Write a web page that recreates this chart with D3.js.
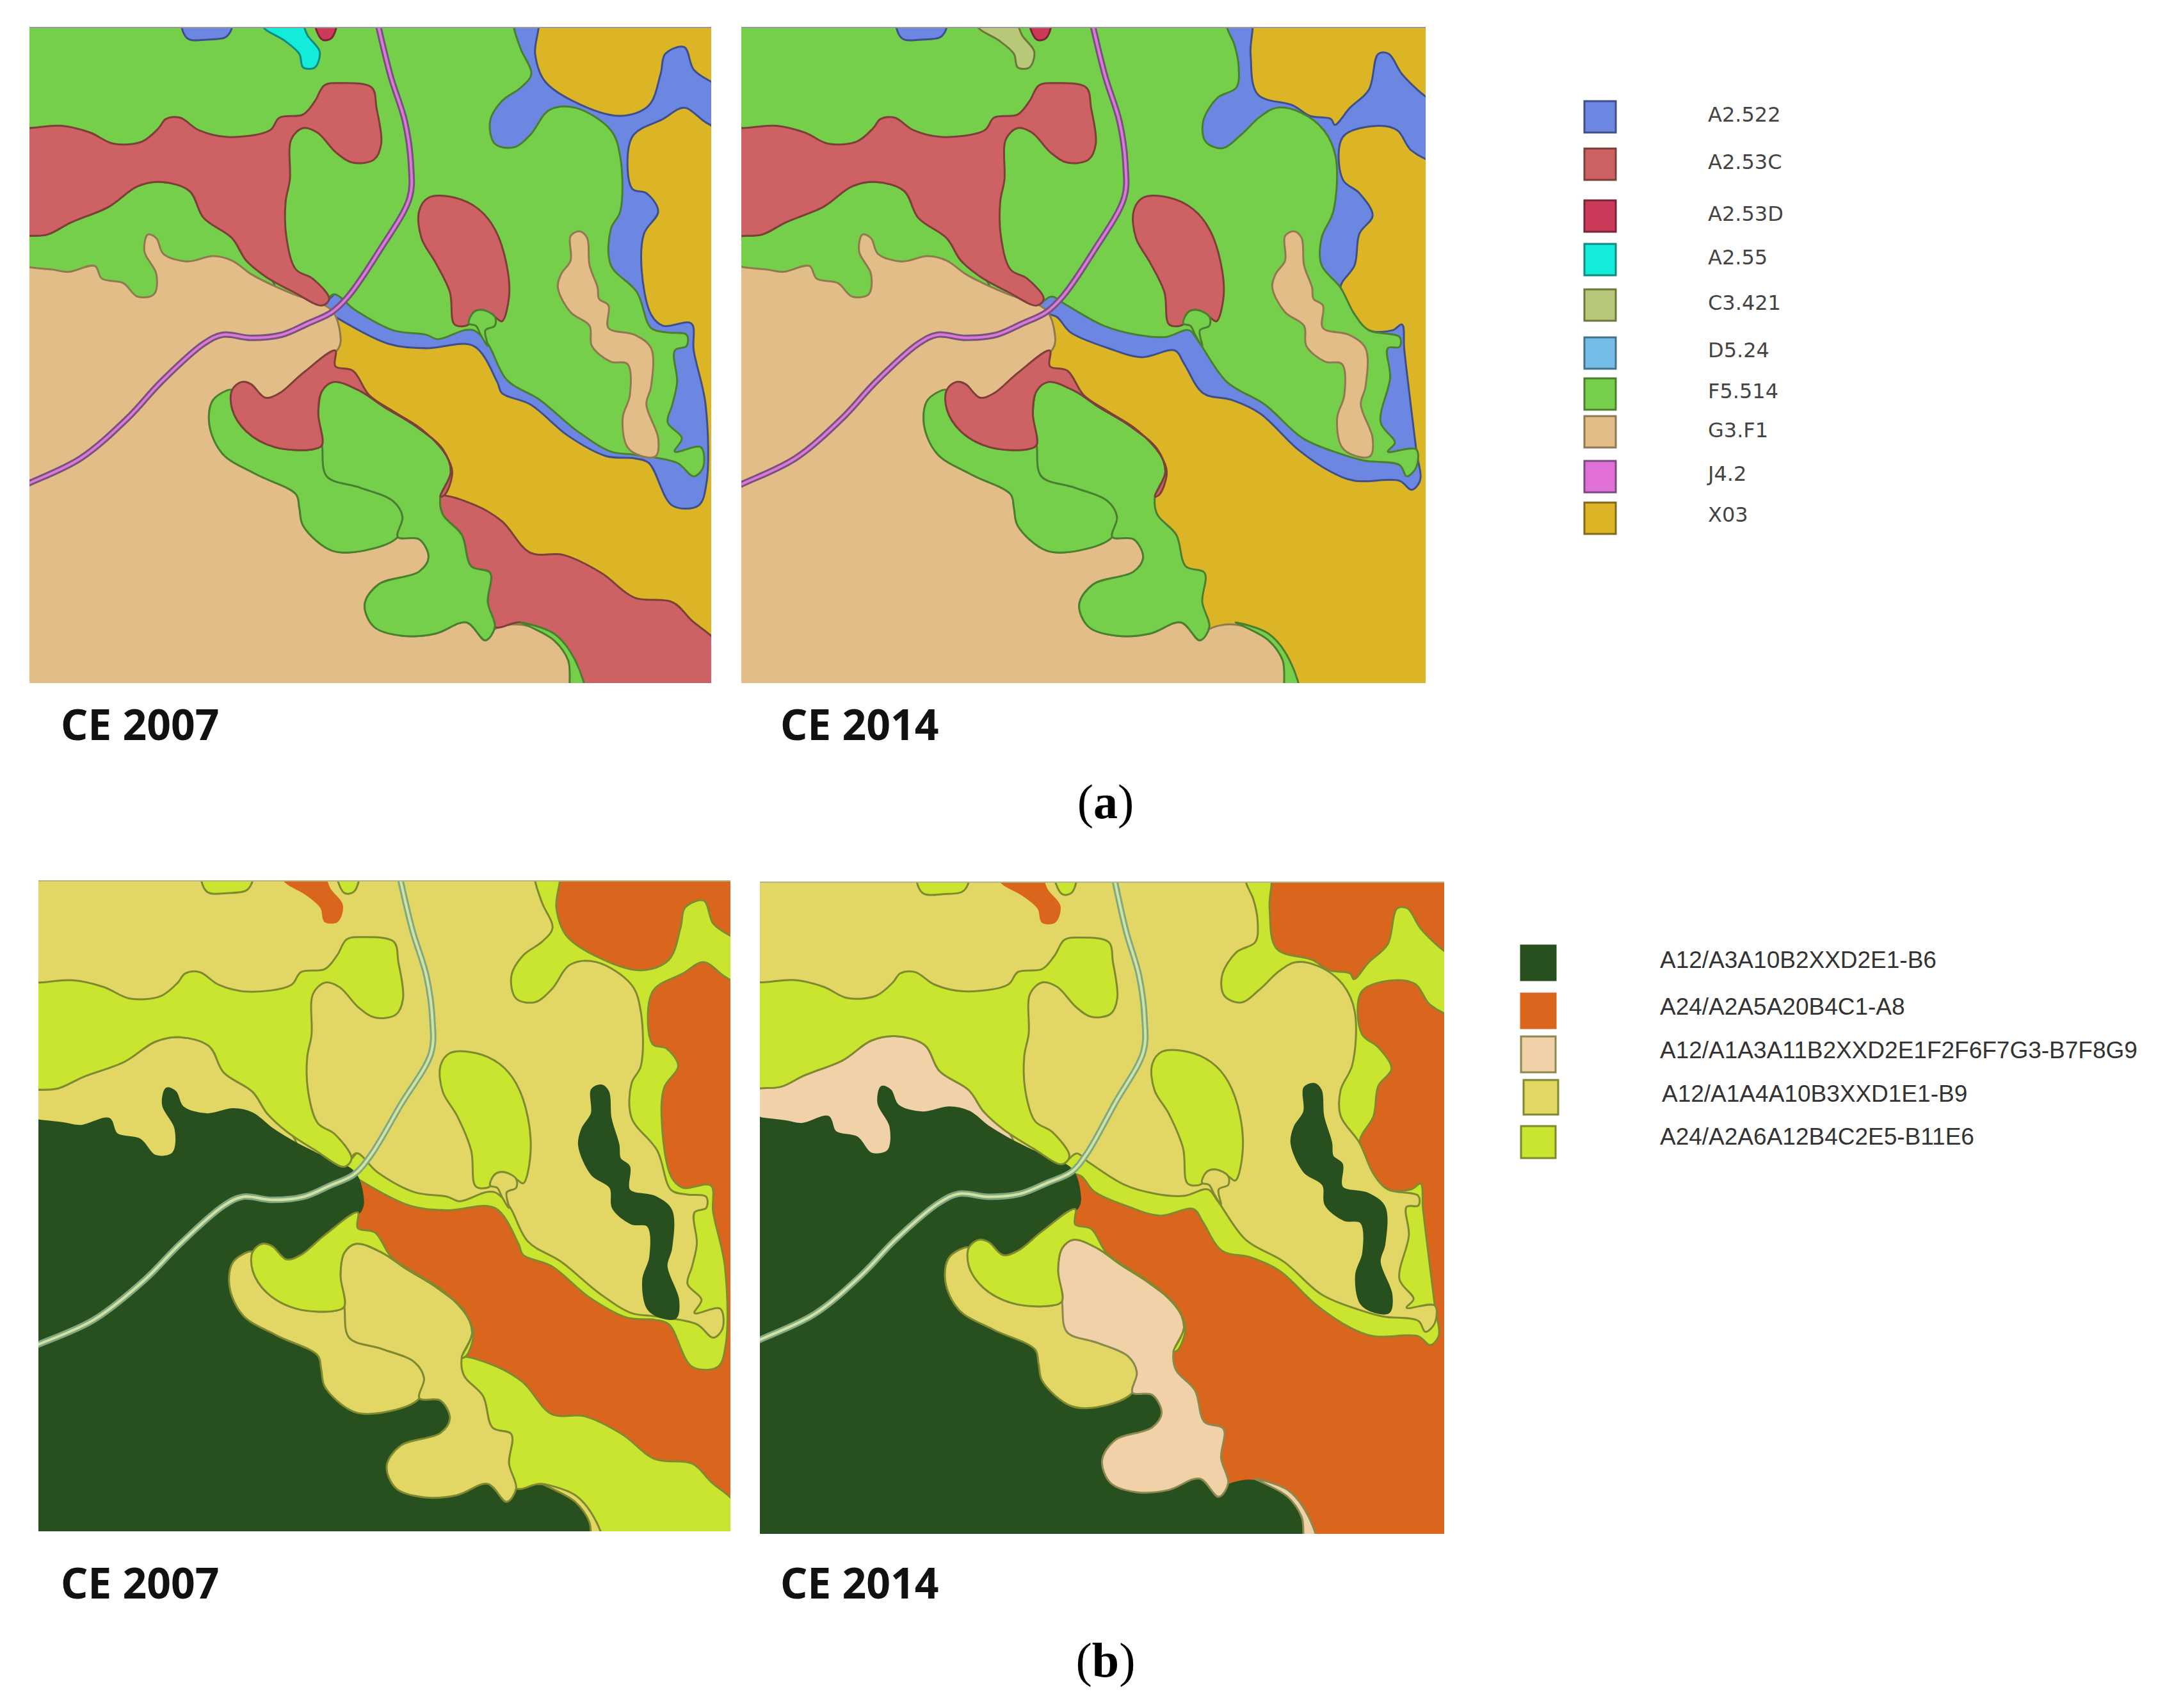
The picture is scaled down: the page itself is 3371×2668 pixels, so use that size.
<!DOCTYPE html>
<html>
<head>
<meta charset="utf-8">
<script src="https://cdn.jsdelivr.net/npm/d3@7"></script>
<style>
  html, body { margin: 0; padding: 0; background: #fff; }
</style>
</head>
<body>
<svg id="viz"></svg>
<script>
// legend (a)
const codesA = ["A2.522", "A2.53C", "A2.53D", "A2.55", "C3.421", "D5.24", "F5.514", "G3.F1", "J4.2", "X03"];
const fillsA = ["#6b87e2", "#cd6163", "#cb3a58", "#12ecd8", "#b7c878", "#74bde8", "#76cf4b", "#e3bd87", "#e070d6", "#dcb526"];
const edgesA = ["#3f4f8a", "#7d4038", "#7a2438", "#128a80", "#6d7838", "#45708a", "#4a7f30", "#8f7a50", "#7a4a80", "#806a18"];

// legend (b)
const codesB = ["A12/A3A10B2XXD2E1-B6", "A24/A2A5A20B4C1-A8", "A12/A1A3A11B2XXD2E1F2F6F7G3-B7F8G9", "A12/A1A4A10B3XXD1E1-B9", "A24/A2A6A12B4C2E5-B11E6"];
const fillsB = ["#28501e", "#da651c", "#f1d1a8", "#e2d664", "#c9e52f"];
const edgesB = ["#28501e", "#da651c", "#8a8a50", "#7f8a30", "#7f8a30"];

// map outlines, in map units
const blue2007 = [[1085,40],[1135,40],[1130,120],[1150,180],[1210,225],[1310,258],[1370,235],[1395,165],[1405,120],[1445,105],[1465,155],[1502,182],[1520,190],[1520,285],[1490,272],[1445,240],[1400,265],[1335,305],[1335,420],[1365,430],[1390,470],[1360,520],[1355,600],[1375,700],[1400,725],[1460,720],[1465,780],[1490,900],[1492,1075],[1475,1125],[1420,1125],[1370,1030],[1340,1020],[1280,1015],[1200,970],[1120,900],[1060,875],[1050,850],[1000,770],[900,775],[820,765],[708,705],[680,685],[705,655],[900,400]];
const green2007 = [[30,30],[1085,30],[1085,60],[1100,110],[1122,165],[1100,195],[1060,225],[1035,270],[1045,320],[1085,328],[1120,300],[1160,245],[1215,240],[1290,290],[1310,350],[1310,470],[1290,510],[1290,590],[1345,650],[1375,730],[1410,740],[1450,745],[1450,770],[1425,780],[1430,850],[1420,900],[1410,940],[1440,975],[1425,1005],[1480,995],[1485,1040],[1465,1060],[1430,1030],[1340,1012],[1290,1005],[1220,960],[1140,890],[1070,845],[1030,765],[1000,735],[980,735],[925,755],[900,745],[830,735],[750,690],[705,655],[680,680],[570,700],[30,700]];
const blue2014 = [[1082,40],[1132,40],[1132,120],[1147,210],[1222,235],[1257,258],[1302,265],[1310,278],[1342,240],[1382,200],[1402,120],[1424,120],[1452,165],[1502,215],[1520,225],[1520,355],[1472,335],[1442,290],[1402,280],[1327,305],[1327,400],[1362,430],[1390,480],[1362,520],[1352,590],[1322,640],[1352,700],[1382,735],[1432,735],[1452,722],[1457,780],[1482,1000],[1490,1070],[1472,1090],[1447,1070],[1352,1070],[1302,1050],[1232,1000],[1152,920],[1092,890],[1032,875],[992,810],[972,780],[902,795],[832,775],[752,740],[722,705],[682,690],[705,655],[900,400]];
const green2014 = [[30,30],[1082,30],[1082,60],[1098,100],[1107,150],[1102,195],[1062,218],[1032,270],[1037,315],[1072,330],[1112,300],[1152,260],[1187,240],[1237,250],[1287,290],[1312,350],[1307,470],[1282,530],[1282,590],[1322,640],[1352,700],[1382,735],[1447,750],[1447,772],[1422,775],[1427,840],[1407,940],[1437,985],[1422,1005],[1482,1000],[1482,1040],[1462,1060],[1447,1035],[1372,1025],[1322,1010],[1242,975],[1162,900],[1082,850],[1022,760],[1002,735],[952,750],[892,745],[822,725],[737,675],[712,660],[680,680],[570,700],[30,700]];
const leftLobe = [[30,525],[62,525],[100,522],[150,495],[230,460],[290,415],[340,405],[400,425],[430,485],[490,530],[520,580],[580,635],[560,720],[300,720],[30,720]];
const tanMain = [[30,592],[62,595],[110,600],[145,605],[200,592],[215,620],[260,630],[290,660],[325,655],[330,610],[305,560],[312,522],[330,530],[345,565],[395,582],[450,570],[490,580],[530,610],[570,632],[620,655],[700,690],[718,740],[715,775],[640,830],[585,880],[560,885],[520,850],[490,868],[450,890],[442,945],[470,1010],[540,1055],[625,1100],[632,1130],[640,1170],[700,1225],[770,1225],[840,1195],[885,1200],[905,1240],[885,1272],[800,1300],[770,1345],[790,1395],[850,1415],[920,1410],[985,1385],[1025,1425],[1045,1400],[1100,1390],[1170,1420],[1205,1470],[1212,1550],[30,1550]];
const redSouth = [[930,1105],[1005,1125],[1060,1160],[1120,1230],[1190,1235],[1270,1275],[1340,1330],[1420,1340],[1460,1380],[1520,1440],[1520,1550],[1240,1550],[1215,1470],[1170,1420],[1100,1385],[1045,1395],[1030,1340],[1035,1275],[995,1260],[975,1190],[935,1145]];
const lobeWest = [[490,868],[450,890],[442,945],[470,1010],[540,1055],[625,1100],[632,1130],[640,1170],[700,1225],[770,1225],[840,1195],[850,1150],[830,1115],[760,1085],[690,1060],[680,990],[660,1000],[580,995],[520,960],[490,910]];
const lobeEast = [[680,990],[672,920],[680,870],[705,850],[760,870],[810,905],[880,950],[935,1000],[952,1050],[930,1105],[935,1145],[975,1190],[995,1260],[1035,1275],[1030,1340],[1045,1395],[1025,1425],[985,1385],[920,1410],[850,1415],[790,1395],[770,1345],[800,1300],[885,1272],[905,1240],[885,1200],[840,1195],[850,1150],[830,1115],[760,1085],[690,1060]];
const redSmall = [[490,868],[510,850],[530,855],[560,885],[590,875],[640,830],[708,780],[708,815],[745,825],[780,880],[830,915],[890,955],[940,1010],[955,1050],[940,1100],[930,1105],[952,1050],[935,1000],[880,950],[810,905],[760,870],[705,850],[680,870],[672,920],[680,990],[660,1000],[580,995],[520,960],[490,910]];
const stripSouth = [[1100,1385],[1170,1410],[1215,1470],[1235,1550],[1208,1550],[1200,1470],[1170,1425],[1120,1395]];
const redNorth = [[30,285],[62,285],[130,280],[190,295],[240,320],[300,315],[335,285],[350,265],[380,262],[420,290],[480,305],[570,290],[590,262],[640,255],[665,225],[685,190],[720,185],[785,195],[795,240],[805,320],[790,355],[745,362],[710,340],[670,295],[640,285],[615,310],[612,400],[603,450],[605,530],[625,600],[660,620],[695,665],[680,680],[620,650],[560,615],[520,580],[490,530],[430,485],[400,425],[340,405],[290,415],[230,460],[150,495],[100,522],[62,525],[30,525]];
const redOval = [[885,470],[905,440],[960,440],[1010,465],[1045,510],[1070,590],[1075,660],[1060,715],[1045,705],[1020,690],[1000,695],[990,722],[960,722],[950,650],[920,585],[890,530]];
const bump = [[990,720],[1000,695],[1020,690],[1045,705],[1045,725],[1025,735],[1030,770],[1015,745],[1005,725]];
const tanEast = [[1205,525],[1225,515],[1240,530],[1245,590],[1262,640],[1265,665],[1285,680],[1285,730],[1340,745],[1375,775],[1375,860],[1365,900],[1390,975],[1385,1015],[1355,1015],[1325,995],[1315,930],[1330,880],[1325,810],[1290,805],[1250,770],[1245,725],[1205,695],[1178,640],[1185,610],[1205,580]];
const topBlue = [[385,40],[395,85],[440,88],[480,80],[490,40]];
const topWet = [[555,40],[555,60],[600,90],[632,120],[640,150],[665,150],[675,115],[650,80],[630,40]];
const topRed = [[665,40],[680,88],[700,85],[710,40]];
const road = [[795,40],[825,170],[855,270],[868,370],[865,440],[800,560],[735,660],[700,695],[650,720],[595,745],[530,752],[470,745],[430,765],[340,850],[270,930],[170,1020],[62,1075],[30,1090]];

// which outline gets which class, painted in this order
const shapeOrder = ["blue", "green", "leftLobe", "tanMain", "redSouth", "lobeWest", "lobeEast", "redSmall", "stripSouth", "redNorth", "redOval", "bump", "tanEast", "topBlue", "topWet", "topRed"];
const classesA2007 = ["A2.522", "F5.514", "F5.514", "G3.F1", "A2.53C", "F5.514", "F5.514", "A2.53C", "F5.514", "A2.53C", "A2.53C", "F5.514", "G3.F1", "A2.522", "A2.55", "A2.53D"];
const classesA2014 = ["A2.522", "F5.514", "F5.514", "G3.F1", null, "F5.514", "F5.514", "A2.53C", "F5.514", "A2.53C", "A2.53C", "F5.514", "G3.F1", "A2.522", "C3.421", "A2.53D"];
const classesB2007 = [codesB[4], codesB[3], codesB[3], codesB[0], codesB[4], codesB[3], codesB[3], codesB[4], codesB[3], codesB[4], codesB[4], codesB[3], codesB[0], codesB[4], codesB[1], codesB[4]];
const classesB2014 = [codesB[4], codesB[3], codesB[2], codesB[0], null, codesB[3], codesB[2], codesB[4], codesB[2], codesB[4], codesB[4], codesB[3], codesB[0], codesB[4], codesB[1], codesB[4]];

const geo2007 = { blue: blue2007, green: green2007, leftLobe, tanMain, redSouth, lobeWest, lobeEast, redSmall, stripSouth, redNorth, redOval, bump, tanEast, topBlue, topWet, topRed };
const geo2014 = Object.assign({}, geo2007, { blue: blue2014, green: green2014 });

const allCodes = codesA.concat(codesB);
const fill = d3.scaleOrdinal().domain(allCodes).range(fillsA.concat(fillsB));
const edge = d3.scaleOrdinal().domain(allCodes).range(edgesA.concat(edgesB));

const panels = [
  { id: "a07", frame: [46, 42, 1111, 1067], base: "X03", geo: geo2007, classes: classesA2007, top: "#999",
    xd: [62, 1502], xr: [46, 1111], yd: [60, 1520], yr: [42, 1067], road: ["#75527f", "#de78d6"] },
  { id: "a14", frame: [1158, 42, 2227, 1067], base: "X03", geo: geo2014, classes: classesA2014, top: "#999",
    xd: [56, 1502], xr: [1158, 2227], yd: [60, 1520], yr: [42, 1067], road: ["#75527f", "#de78d6"] },
  { id: "b07", frame: [60, 1375, 1141, 2392], base: codesB[1], geo: geo2007, classes: classesB2007, top: "#b5b58a",
    xd: [62, 318, 700, 885, 1222, 1502], xr: [60, 265, 553, 688, 937, 1141],
    yd: [40, 60, 440, 590, 690, 1125, 1425, 1490, 1550], yr: [1360, 1375, 1645, 1746, 1831, 2135, 2346, 2392, 2435], road: ["#7fa884", "#d2e2a0"] },
  { id: "b14", frame: [1187, 1377, 2256, 2396], base: codesB[1], geo: geo2014, classes: classesB2014, top: "#b5b58a",
    xd: [56, 317, 697, 884, 1222, 1502], xr: [1187, 1381, 1672, 1799, 2050, 2256],
    yd: [40, 60, 440, 590, 690, 1090, 1425, 1505, 1550], yr: [1362, 1377, 1643, 1743, 1827, 2101, 2338, 2396, 2428], road: ["#7fa884", "#d2e2a0"] }
];

const yearLabels = [
  { text: "CE 2007", x: 95, y: 1156 }, { text: "CE 2014", x: 1219, y: 1156 },
  { text: "CE 2007", x: 95, y: 2497 }, { text: "CE 2014", x: 1219, y: 2497 }
];

const svg = d3.select("#viz").attr("width", 3371).attr("height", 2668);
svg.append("rect").attr("width", 3371).attr("height", 2668).attr("fill", "#fff");

function drawMap(p) {
  const x = d3.scaleLinear().domain(p.xd).range(p.xr);
  const y = d3.scaleLinear().domain(p.yd).range(p.yr);
  const [x0, y0, x1, y1] = p.frame;

  svg.append("clipPath").attr("id", "clip-" + p.id)
    .append("rect").attr("x", x0).attr("y", y0).attr("width", x1 - x0).attr("height", y1 - y0);

  const g = svg.append("g").attr("clip-path", "url(#clip-" + p.id + ")");
  g.append("rect").attr("x", x0).attr("y", y0).attr("width", x1 - x0).attr("height", y1 - y0)
    .attr("fill", fill(p.base));

  const area = d3.line().x(d => x(d[0])).y(d => y(d[1])).curve(d3.curveCatmullRomClosed.alpha(0.5));
  const open = d3.line().x(d => x(d[0])).y(d => y(d[1])).curve(d3.curveCatmullRom.alpha(0.5));

  const rows = shapeOrder.map((name, i) => ({ name, code: p.classes[i], pts: p.geo[name] }))
    .filter(d => d.code);

  g.selectAll("path.patch").data(rows).join("path")
    .attr("class", "patch")
    .attr("d", d => area(d.pts))
    .attr("fill", d => fill(d.code))
    .attr("stroke", d => edge(d.code))
    .attr("stroke-width", 3)
    .attr("stroke-linejoin", "round");

  // road is a thin double line
  g.append("path").attr("d", open(road)).attr("fill", "none").attr("stroke", p.road[0]).attr("stroke-width", 10);
  g.append("path").attr("d", open(road)).attr("fill", "none").attr("stroke", p.road[1]).attr("stroke-width", 4);

  // thin grey edge along the top of each map
  g.append("line").attr("x1", x0).attr("x2", x1).attr("y1", y0 + 1).attr("y2", y0 + 1)
    .attr("stroke", p.top).attr("stroke-width", 2);
}

panels.forEach(drawMap);

// year labels
svg.selectAll("text.year").data(yearLabels).join("text")
  .attr("class", "year")
  .attr("x", d => d.x).attr("y", d => d.y)
  .attr("font-family", "'Noto Sans'").attr("font-weight", 700).attr("font-size", 66)
  .attr("fill", "#111")
  .text(d => d.text);

// captions
function caption(letter, yy) {
  const t = svg.append("text").attr("x", 1727).attr("y", yy).attr("text-anchor", "middle")
    .attr("font-family", "'Liberation Serif'").attr("font-size", 76).attr("fill", "#000");
  t.append("tspan").text("(");
  t.append("tspan").attr("font-weight", 700).text(letter);
  t.append("tspan").text(")");
}
caption("a", 1278);
caption("b", 2619);

// legends
const legendAY = d3.scaleOrdinal().domain(codesA).range([158, 232, 313, 381, 452, 527, 591, 650, 720, 785]);
const legendABase = d3.scaleOrdinal().domain(codesA).range([190, 264, 345, 413, 484, 558, 622, 683, 751, 815]);

svg.selectAll("rect.keyA").data(codesA).join("rect")
  .attr("class", "keyA")
  .attr("x", 2475).attr("y", d => legendAY(d)).attr("width", 49).attr("height", 49)
  .attr("fill", d => fill(d)).attr("stroke", d => edge(d)).attr("stroke-width", 3);

svg.selectAll("text.keyA").data(codesA).join("text")
  .attr("class", "keyA")
  .attr("x", 2668).attr("y", d => legendABase(d))
  .attr("font-family", "'DejaVu Sans'").attr("font-size", 32).attr("fill", "#444")
  .text(d => d);

const legendBY = d3.scaleOrdinal().domain(codesB).range([1477, 1552, 1619, 1687, 1759]);
const legendBH = d3.scaleOrdinal().domain(codesB).range([54, 54, 56, 54, 50]);
const legendBX = d3.scaleOrdinal().domain(codesB).range([2376, 2376, 2376, 2380, 2376]);
const legendBBase = d3.scaleOrdinal().domain(codesB).range([1512, 1585, 1653, 1721, 1788]);
const legendBText = d3.scaleOrdinal().domain(codesB).range([2593, 2593, 2593, 2596, 2593]);

svg.selectAll("rect.keyB").data(codesB).join("rect")
  .attr("class", "keyB")
  .attr("x", d => legendBX(d)).attr("y", d => legendBY(d)).attr("width", 54).attr("height", d => legendBH(d))
  .attr("fill", d => fill(d)).attr("stroke", d => edge(d)).attr("stroke-width", 3);

svg.selectAll("text.keyB").data(codesB).join("text")
  .attr("class", "keyB")
  .attr("x", d => legendBText(d)).attr("y", d => legendBBase(d))
  .attr("font-family", "'Liberation Sans'").attr("font-size", 37).attr("fill", "#333")
  .text(d => d);
</script>
</body>
</html>
